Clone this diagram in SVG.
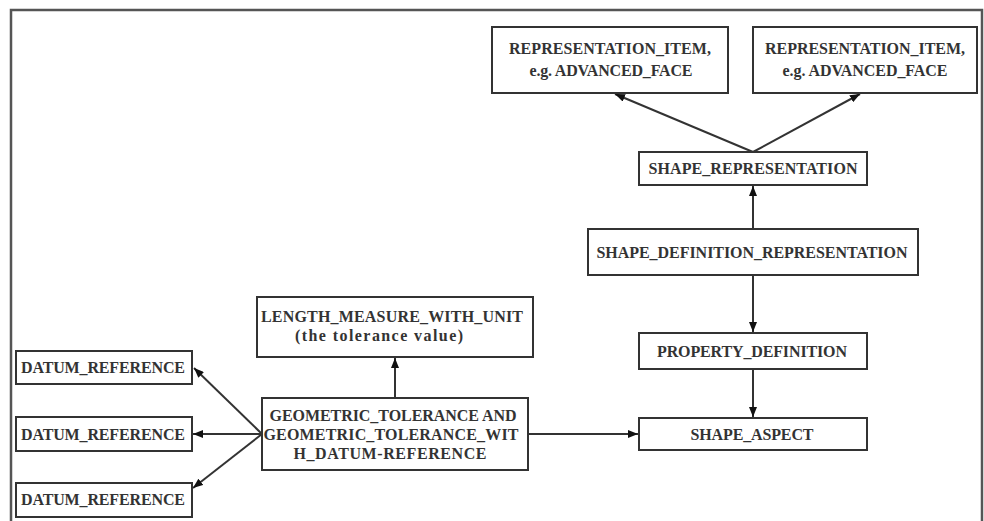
<svg xmlns="http://www.w3.org/2000/svg" width="984" height="521" viewBox="0 0 984 521">
<style>
.box{fill:#fff;stroke:#333;stroke-width:2}
.t{font-family:"Liberation Serif","Times New Roman",serif;font-weight:bold;font-size:16px;fill:#333;text-anchor:middle}
.c{stroke:#333;stroke-width:2;fill:none;marker-end:url(#ah)}
</style>
<defs>
<marker id="ah" viewBox="0 0 10 8" refX="10" refY="4" markerWidth="10" markerHeight="8" markerUnits="userSpaceOnUse" orient="auto">
<path d="M0,0 L10,4 L0,8 Z" fill="#111"/>
</marker>
</defs>
<rect x="0" y="0" width="984" height="521" fill="#fff"/>
<path d="M11,530 V10 H982 V530" fill="none" stroke="#555" stroke-width="2.5"/>
<g id="connectors">
<line class="c" x1="753" y1="152" x2="615" y2="94"/>
<line class="c" x1="753" y1="152" x2="860" y2="94"/>
<line class="c" x1="753" y1="229" x2="753" y2="186"/>
<line class="c" x1="753" y1="275" x2="753" y2="332"/>
<line class="c" x1="753" y1="369" x2="753" y2="417"/>
<line class="c" x1="528" y1="434" x2="638" y2="434"/>
<line class="c" x1="395" y1="398" x2="395" y2="358"/>
<line class="c" x1="262" y1="434" x2="194" y2="368"/>
<line class="c" x1="262" y1="434" x2="193" y2="434"/>
<line class="c" x1="262" y1="434" x2="193" y2="488"/>
</g>
<g id="ri1"><rect class="box" x="492" y="27" width="236" height="66"/><text class="t" x="610" y="54" textLength="202" lengthAdjust="spacing">REPRESENTATION_ITEM,</text><text class="t" x="611" y="76" textLength="163" lengthAdjust="spacing">e.g. ADVANCED_FACE</text></g>
<g id="ri2"><rect class="box" x="753" y="27" width="224" height="66"/><text class="t" x="865" y="54" textLength="200" lengthAdjust="spacing">REPRESENTATION_ITEM,</text><text class="t" x="865" y="76" textLength="165" lengthAdjust="spacing">e.g. ADVANCED_FACE</text></g>
<g id="sr"><rect class="box" x="639" y="152" width="228" height="33"/><text class="t" x="753" y="174" textLength="209" lengthAdjust="spacing">SHAPE_REPRESENTATION</text></g>
<g id="sdr"><rect class="box" x="588" y="229" width="330" height="46"/><text class="t" x="752" y="258" textLength="311" lengthAdjust="spacing">SHAPE_DEFINITION_REPRESENTATION</text></g>
<g id="pd"><rect class="box" x="639" y="333" width="228" height="36"/><text class="t" x="752" y="357" textLength="190" lengthAdjust="spacing">PROPERTY_DEFINITION</text></g>
<g id="sa"><rect class="box" x="639" y="418" width="228" height="32"/><text class="t" x="752" y="440" textLength="123" lengthAdjust="spacing">SHAPE_ASPECT</text></g>
<g id="lmwu"><rect class="box" x="257" y="297" width="276" height="60"/><text class="t" x="392" y="322" textLength="262" lengthAdjust="spacing">LENGTH_MEASURE_WITH_UNIT</text><text class="t" x="379" y="341" textLength="168" lengthAdjust="spacing">(the tolerance value)</text></g>
<g id="gt"><rect class="box" x="262" y="398" width="266" height="72"/><text class="t" x="393" y="421" textLength="247" lengthAdjust="spacing">GEOMETRIC_TOLERANCE AND</text><text class="t" x="391" y="440" textLength="255" lengthAdjust="spacing">GEOMETRIC_TOLERANCE_WIT</text><text class="t" x="390" y="459" textLength="193" lengthAdjust="spacing">H_DATUM-REFERENCE</text></g>
<g id="dr1"><rect class="box" x="16" y="351" width="176" height="33"/><text class="t" x="103" y="373" textLength="164" lengthAdjust="spacing">DATUM_REFERENCE</text></g>
<g id="dr2"><rect class="box" x="16" y="417" width="176" height="34"/><text class="t" x="103" y="440" textLength="164" lengthAdjust="spacing">DATUM_REFERENCE</text></g>
<g id="dr3"><rect class="box" x="16" y="483" width="176" height="34"/><text class="t" x="103" y="505" textLength="164" lengthAdjust="spacing">DATUM_REFERENCE</text></g>
</svg>
